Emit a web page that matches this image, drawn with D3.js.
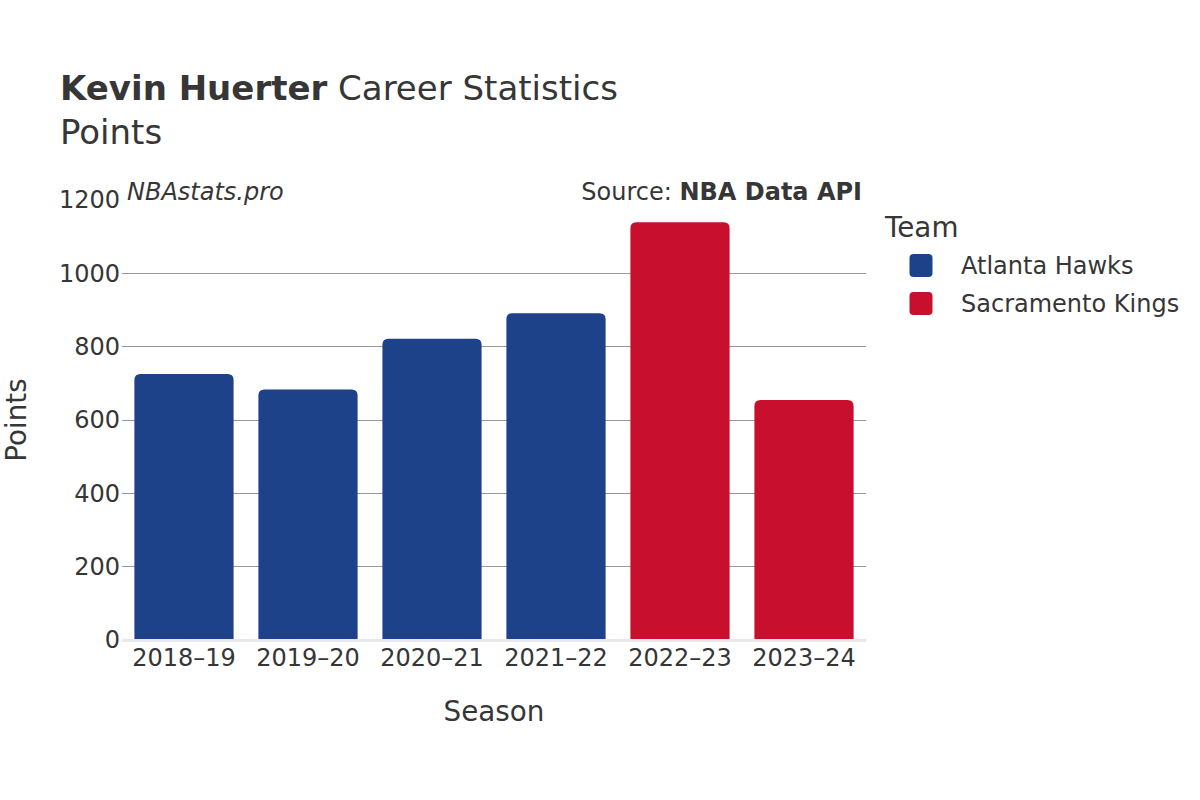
<!DOCTYPE html>
<html>
<head>
<meta charset="utf-8">
<script src="https://cdn.jsdelivr.net/npm/d3@7"></script>
<style>
  html, body { margin: 0; padding: 0; background: #fff; }
  svg { display: block; font-family: "DejaVu Sans", sans-serif; }
</style>
</head>
<body>
<svg id="chart" width="1200" height="800"></svg>
<script>
const seasons = ["2018–19", "2019–20", "2020–21", "2021–22", "2022–23", "2023–24"];
const points = [724, 682, 820, 890, 1138, 653];
const teams = ["Atlanta Hawks", "Atlanta Hawks", "Atlanta Hawks", "Atlanta Hawks", "Sacramento Kings", "Sacramento Kings"];
const legendTeams = ["Atlanta Hawks", "Sacramento Kings"];
const teamColors = ["#1D428A", "#C8102E"];
const yTicks = [0, 200, 400, 600, 800, 1000, 1200];

const svg = d3.select("#chart");
const textColor = "#363636";

const x = d3.scaleBand().domain(seasons).range([122, 866]).paddingInner(0.2).paddingOuter(0.1);
const y = d3.scaleLinear().domain([0, 1200]).range([639.5, 199.5]);
const color = d3.scaleOrdinal().domain(legendTeams).range(teamColors);

// gridlines
svg.append("g")
  .selectAll("line")
  .data(yTicks.filter(d => d > 0 && d < 1200))
  .join("line")
  .attr("x1", 122).attr("x2", 866)
  .attr("y1", d => Math.round(y(d)) + 0.5).attr("y2", d => Math.round(y(d)) + 0.5)
  .attr("stroke", "#999").attr("stroke-width", 1);

// bars with rounded top corners
const r = 6;
function barPath(d, i) {
  const x0 = x(seasons[i]), w = x.bandwidth();
  const yt = y(d), yb = y(0);
  return `M${x0},${yb} L${x0},${yt + r} Q${x0},${yt} ${x0 + r},${yt} L${x0 + w - r},${yt} Q${x0 + w},${yt} ${x0 + w},${yt + r} L${x0 + w},${yb} Z`;
}
svg.append("g")
  .selectAll("path")
  .data(points)
  .join("path")
  .attr("d", (d, i) => barPath(d, i))
  .attr("fill", (d, i) => color(teams[i]));

// zero line
svg.append("line")
  .attr("x1", 122).attr("x2", 866)
  .attr("y1", y(0) + 1).attr("y2", y(0) + 1)
  .attr("stroke", "#e8e8e8").attr("stroke-width", 3);

// y axis
const yAxis = d3.axisLeft(y).tickValues(yTicks).tickSize(0).tickPadding(0).tickFormat(d3.format("d"));
const yg = svg.append("g").attr("transform", "translate(120,0)").call(yAxis);
yg.select(".domain").remove();
yg.selectAll("text").attr("font-size", 24).attr("fill", textColor)
  .attr("font-family", "DejaVu Sans, sans-serif").attr("dy", "0.35em");

// x axis
const xAxis = d3.axisBottom(x).tickSize(0).tickPadding(0);
const xg = svg.append("g").attr("transform", "translate(0,648)").call(xAxis);
xg.select(".domain").remove();
xg.selectAll("text").attr("font-size", 24).attr("fill", textColor)
  .attr("font-family", "DejaVu Sans, sans-serif").attr("dy", "0.76em");

// titles
const title = svg.append("text").attr("x", 60).attr("y", 100).attr("font-size", 34).attr("fill", textColor);
title.append("tspan").attr("font-weight", "bold").text("Kevin Huerter");
title.append("tspan").text(" Career Statistics");
svg.append("text").attr("x", 60).attr("y", 144).attr("font-size", 34).attr("fill", textColor).text("Points");

svg.append("text").attr("x", 127).attr("y", 200).attr("font-size", 24).attr("font-style", "italic")
  .attr("fill", textColor).text("NBAstats.pro");
const src = svg.append("text").attr("x", 862).attr("y", 200).attr("text-anchor", "end")
  .attr("font-size", 24).attr("fill", textColor);
src.append("tspan").text("Source: ");
src.append("tspan").attr("font-weight", "bold").text("NBA Data API");

// axis titles
svg.append("text").attr("x", 494).attr("y", 721).attr("text-anchor", "middle")
  .attr("font-size", 27.8).attr("fill", textColor).text("Season");
svg.append("text").attr("transform", "translate(26,420) rotate(-90)").attr("text-anchor", "middle")
  .attr("font-size", 27.8).attr("fill", textColor).text("Points");

// legend
svg.append("text").attr("x", 885).attr("y", 237).attr("font-size", 27.8).attr("fill", textColor).text("Team");
const lg = svg.append("g").selectAll("g").data(legendTeams).join("g")
  .attr("transform", (d, i) => `translate(0,${265.5 + i * 38})`);
lg.append("rect").attr("x", 909.5).attr("y", -11.5).attr("width", 23).attr("height", 23)
  .attr("rx", 4).attr("fill", d => color(d));
lg.append("text").attr("x", 961).attr("y", 0).attr("dy", "0.35em").attr("font-size", 24)
  .attr("fill", textColor).text(d => d);
</script>
</body>
</html>
